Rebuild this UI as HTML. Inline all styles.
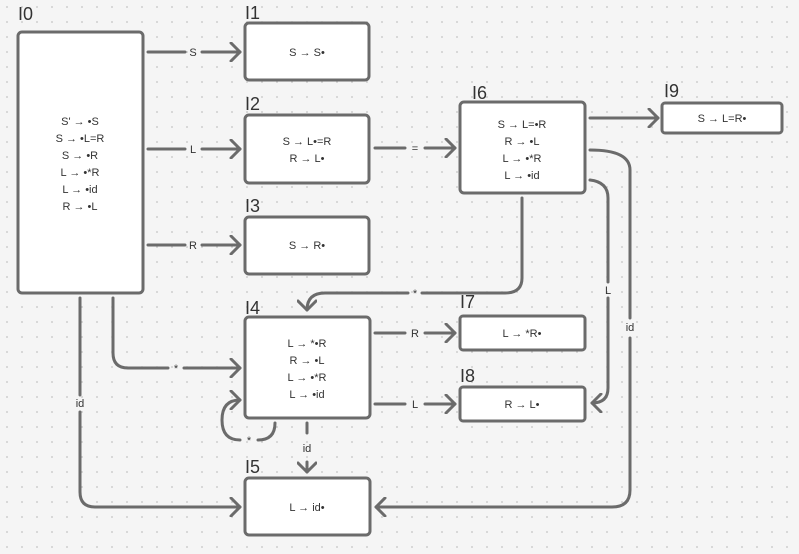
<!DOCTYPE html>
<html><head><meta charset="utf-8"><style>
html,body{margin:0;padding:0;background:#f5f5f5}
svg{display:block}
text{font-family:"Liberation Sans",sans-serif;fill:#333}
</style></head><body>
<svg width="799" height="554" viewBox="0 0 799 554" xmlns="http://www.w3.org/2000/svg">
<defs>
<pattern id="d" width="15" height="15" patternUnits="userSpaceOnUse"><circle cx="7" cy="7" r="0.9" fill="#c4c4c4"/></pattern>
<marker id="a" markerWidth="14" markerHeight="20" refX="11" refY="10" orient="auto" markerUnits="userSpaceOnUse">
<path d="M2,1 L11,10 L2,19" fill="none" stroke="#6b6b6b" stroke-width="3" stroke-linecap="round" stroke-linejoin="round"/></marker>
</defs>
<rect width="799" height="554" fill="#f5f5f5"/>
<rect width="799" height="554" fill="url(#d)"/>
<g fill="#fff" stroke="#6b6b6b" stroke-width="3">
<rect x="18" y="32" width="125" height="261" rx="4"/>
<rect x="245" y="23" width="124" height="57" rx="4"/>
<rect x="245" y="115" width="124" height="68" rx="4"/>
<rect x="245" y="217" width="124" height="57" rx="4"/>
<rect x="460" y="102" width="125" height="91" rx="4"/>
<rect x="662" y="103" width="120" height="30" rx="3"/>
<rect x="245" y="317" width="125" height="101" rx="4"/>
<rect x="460" y="316" width="125" height="34" rx="3"/>
<rect x="460" y="387" width="125" height="34" rx="3"/>
<rect x="245" y="478" width="125" height="57" rx="4"/>
</g>
<g fill="none" stroke="#6b6b6b" stroke-width="3" stroke-linecap="round">
<path d="M148,52 H185 M202,52 H240" marker-end="url(#a)"/>
<path d="M148,149 H185 M202,149 H240" marker-end="url(#a)"/>
<path d="M148,245 H185 M202,245 H240" marker-end="url(#a)"/>
<path d="M375,148 H405 M425,148 H455" marker-end="url(#a)"/>
<path d="M590,118 H658" marker-end="url(#a)"/>
<path d="M590,180 Q608,182 608,198 V282 M608,298 V388 Q608,403 592,403" marker-end="url(#a)"/>
<path d="M590,150 Q630,150 630,170 V318 M630,338 V490 Q630,507 612,507 H376" marker-end="url(#a)"/>
<path d="M522,198 V278 Q522,293 505,293 H422 M408,293 H325 Q307,293 307,310" marker-end="url(#a)"/>
<path d="M113,298 V353 Q113,368 128,368 H168 M184,368 H240" marker-end="url(#a)"/>
<path d="M80,298 V395 M80,412 V492 Q80,507 95,507 H240" marker-end="url(#a)"/>
<path d="M375,333 H405 M425,333 H455" marker-end="url(#a)"/>
<path d="M375,404 H405 M425,404 H455" marker-end="url(#a)"/>
<path d="M307,423 V433 M307,462 V472" marker-end="url(#a)"/>
<path d="M275,423 Q275,440 258,440 M240,440 Q222,440 222,420 Q222,400 240,400" marker-end="url(#a)"/>
</g>
<g font-size="18">
<text x="18" y="20">I0</text><text x="245" y="19">I1</text><text x="245" y="110">I2</text>
<text x="245" y="212">I3</text><text x="472" y="99">I6</text><text x="664" y="97">I9</text>
<text x="245" y="314">I4</text><text x="460" y="308">I7</text><text x="460" y="382">I8</text>
<text x="245" y="473">I5</text>
</g>
<g font-size="11" text-anchor="middle">
<text x="80" y="125">S' → •S</text><text x="80" y="142">S → •L=R</text><text x="80" y="159">S → •R</text>
<text x="80" y="176">L → •*R</text><text x="80" y="193">L → •id</text><text x="80" y="210">R → •L</text>
<text x="307" y="56">S → S•</text>
<text x="307" y="145">S → L•=R</text><text x="307" y="162">R → L•</text>
<text x="307" y="249">S → R•</text>
<text x="522" y="128">S → L=•R</text><text x="522" y="145">R → •L</text><text x="522" y="162">L → •*R</text><text x="522" y="179">L → •id</text>
<text x="722" y="122">S → L=R•</text>
<text x="307" y="347">L → *•R</text><text x="307" y="364">R → •L</text><text x="307" y="381">L → •*R</text><text x="307" y="398">L → •id</text>
<text x="522" y="337">L → *R•</text><text x="522" y="408">R → L•</text>
<text x="307" y="511">L → id•</text>
<text x="193" y="56">S</text><text x="193" y="153">L</text><text x="193" y="249">R</text>
<text x="415" y="152">=</text><text x="608" y="294">L</text><text x="630" y="331">id</text>
<text x="415" y="297">*</text><text x="176" y="372">*</text><text x="80" y="407">id</text>
<text x="415" y="337">R</text><text x="415" y="408">L</text><text x="307" y="452">id</text><text x="249" y="444">*</text>
</g>
</svg>
</body></html>
